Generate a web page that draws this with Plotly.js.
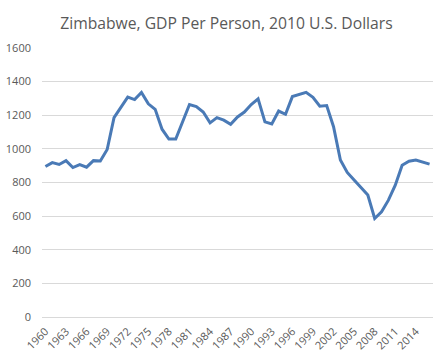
<!DOCTYPE html>
<html>
<head>
<meta charset="utf-8">
<script src="https://cdn.plot.ly/plotly-3.0.1.min.js"></script>
<style>html,body{margin:0;padding:0;background:#fff;}#chart{width:444px;height:359px;}</style>
</head>
<body>
<div id="chart"></div>
<script>
const years = [];
for (let y = 1960; y <= 2016; y++) years.push(y);
const gdpPerPerson = [
  895, 918, 907, 930, 889, 907, 891, 930, 928, 996,
  1186, 1248, 1308, 1293, 1336, 1268, 1235, 1117, 1058, 1058,
  1161, 1264, 1252, 1219, 1155, 1186, 1171, 1146, 1190, 1219,
  1264, 1297, 1161, 1148, 1225, 1206, 1311, 1322, 1336, 1307,
  1254, 1258, 1132, 934, 860, 815, 770, 725, 586, 626,
  695, 784, 903, 927, 933, 923, 909
];
const tickYears = [1960,1963,1966,1969,1972,1975,1978,1981,1984,1987,1990,1993,1996,1999,2002,2005,2008,2011,2014];
const tickLabels = tickYears.map(String);
const titleText = "Zimbabwe, GDP Per Person, 2010 U.S. Dollars";

const trace = {
  x: years, y: gdpPerPerson, type: 'scatter', mode: 'lines',
  line: {color: '#4a7ab6', width: 3, shape: 'linear'},
  hoverinfo: 'x+y'
};
const layout = {
  width: 444, height: 359,
  margin: {l: 42, r: 11, t: 47.5, b: 41.7},
  paper_bgcolor: '#ffffff', plot_bgcolor: '#ffffff',
  showlegend: false,
  title: {text: titleText, x: 0.51, xanchor: 'center', y: 0.935, yanchor: 'middle',
          font: {family: 'Open Sans, sans-serif', size: 15.7, color: '#595959'}},
  xaxis: {
    range: [1959.5, 2016.5], tickmode: 'array', tickvals: tickYears, ticktext: tickLabels,
    tickangle: -45, showgrid: false, zeroline: false, showline: false, ticks: '',
    ticklabelstandoff: 5,
    tickfont: {family: 'Open Sans, sans-serif', size: 11, color: '#595959'}
  },
  yaxis: {
    range: [0, 1600], tickmode: 'linear', tick0: 0, dtick: 200,
    showgrid: true, gridcolor: '#d9d9d9', gridwidth: 1, zeroline: true, zerolinecolor: '#d9d9d9', zerolinewidth: 1,
    showline: false, ticks: '', ticklen: 0,
    ticklabelstandoff: 10,
    tickfont: {family: 'Open Sans, sans-serif', size: 11, color: '#595959'}
  }
};
Plotly.newPlot('chart', [trace], layout, {staticPlot: true, displayModeBar: false});
</script>
</body>
</html>
